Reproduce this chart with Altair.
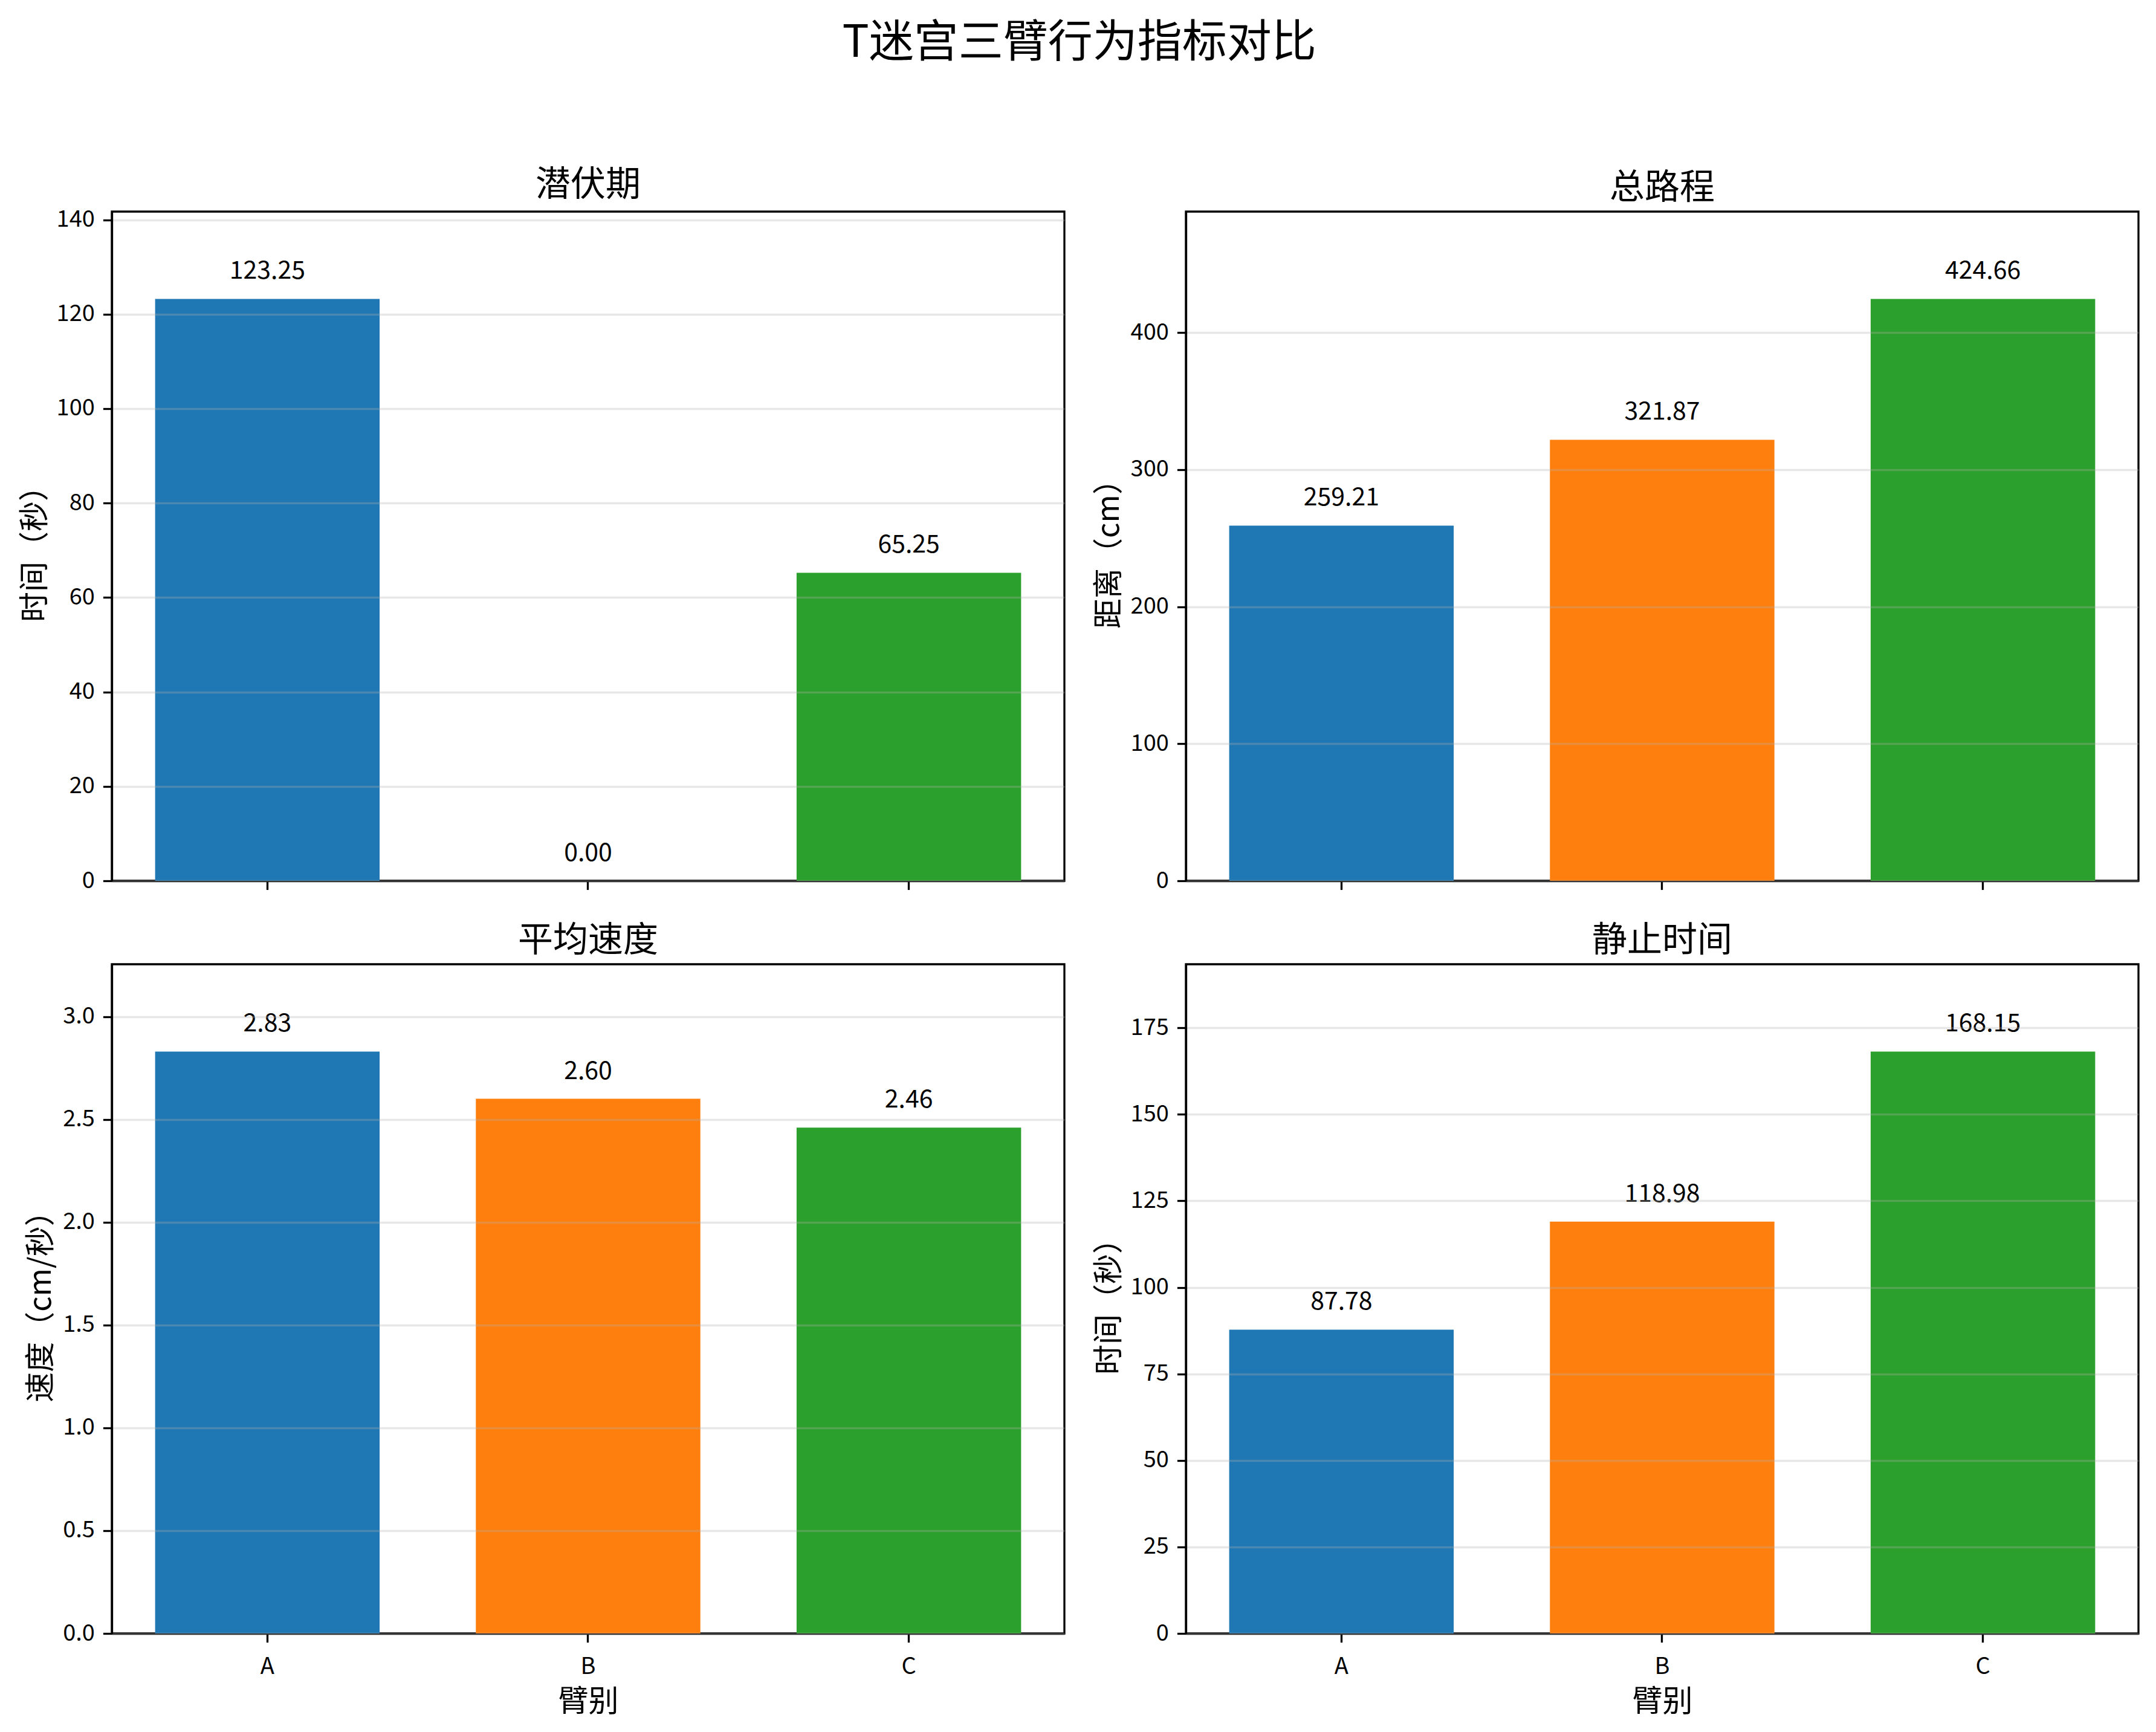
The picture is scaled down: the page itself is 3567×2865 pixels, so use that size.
import altair as alt
import pandas as pd

arms = ["A", "B", "C"]
latency = [123.25, 0.00, 65.25]
distance = [259.21, 321.87, 424.66]
speed = [2.83, 2.60, 2.46]
immobile = [87.78, 118.98, 168.15]
colors = ["#1f77b4", "#ff7f0e", "#2ca02c"]

panel_titles = ["潜伏期", "总路程", "平均速度", "静止时间"]
y_titles = ["时间（秒）", "距离（cm）", "速度（cm/秒）", "时间（秒）"]
y_ticks = [
    [0, 20, 40, 60, 80, 100, 120, 140],
    [0, 100, 200, 300, 400],
    [0.0, 0.5, 1.0, 1.5, 2.0, 2.5, 3.0],
    [0, 25, 50, 75, 100, 125, 150, 175],
]
y_formats = ["d", "d", ".1f", "d"]
series = [latency, distance, speed, immobile]
main_title = "T迷宫三臂行为指标对比"
x_title = "臂别"

FONT = "Noto Sans CJK SC"
LW = 3.3
W, H = 1576, 1107


def panel(i):
    vals = series[i]
    df = pd.DataFrame({"arm": arms, "value": vals, "label": [f"{v:.2f}" for v in vals]})
    bottom = i >= 2
    xaxis = alt.Axis(
        labels=bottom,
        title=x_title if bottom else None,
        labelAngle=0,
        grid=False,
        titlePadding=14,
        labelPadding=22,
    )
    x = alt.X("arm:N", sort=arms,
              scale=alt.Scale(paddingInner=0.3, paddingOuter=0.135),
              axis=xaxis)
    y = alt.Y("value:Q",
              scale=alt.Scale(domain=[0, max(vals) * 1.15], nice=False, zero=True),
              axis=alt.Axis(values=y_ticks[i], format=y_formats[i], title=y_titles[i],
                            grid=True, gridColor="#b0b0b0", gridOpacity=0.3, gridWidth=LW,
                            labelFlush=False, labelOverlap=False, zindex=1,
                            titlePadding=10, labelPadding=14))
    base = alt.Chart(df)
    bars = base.mark_bar().encode(
        x=x, y=y,
        color=alt.Color("arm:N", scale=alt.Scale(domain=arms, range=colors), legend=None),
    )
    text = base.mark_text(baseline="alphabetic", dy=-33, fontSize=41, font=FONT, color="black").encode(
        x=alt.X("arm:N", sort=arms), y=alt.Y("value:Q"), text="label:N"
    )
    return alt.layer(bars, text).properties(
        width=W, height=H,
        title=alt.TitleParams(panel_titles[i], fontSize=58, fontWeight="normal", font=FONT,
                              anchor="middle", offset=9, color="black"),
    )


chart = alt.concat(
    *[panel(i) for i in range(4)],
    columns=2,
    spacing={"row": 138, "column": 201},
    bounds="flush",
).properties(
    title=alt.TitleParams(main_title, fontSize=74, fontWeight="normal", font=FONT,
                          anchor="middle", offset=166, color="black"),
    padding={"left": 23, "top": 26, "right": 10, "bottom": 10},
).configure_view(
    stroke="black", strokeWidth=LW
).configure_axis(
    domainColor="black", domainWidth=LW,
    tickColor="black", tickWidth=LW, tickSize=14.6,
    labelFont=FONT, labelFontSize=38, labelColor="black",
    titleFont=FONT, titleFontSize=50, titleFontWeight="normal", titleColor="black",
)

chart.save("out.html", embed_options={"renderer": "svg", "actions": False})
